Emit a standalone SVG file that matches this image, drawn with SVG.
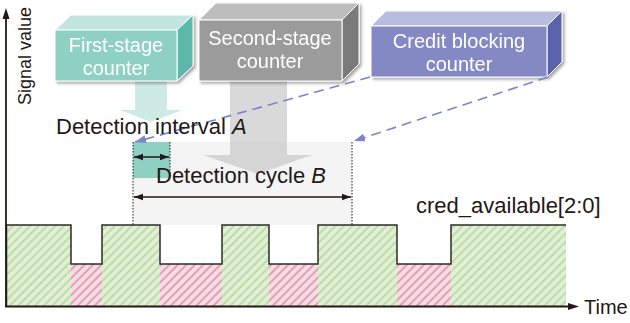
<svg xmlns="http://www.w3.org/2000/svg" width="630" height="323" viewBox="0 0 630 323">
  <style>
    .lbl { font-family: "Liberation Sans", Arial, sans-serif; font-size: 22px; fill: #231815; }
    .box { font-family: "Liberation Sans", Arial, sans-serif; font-size: 20px; fill: #ffffff; text-anchor: middle; }
    .edge { stroke: #ffffff; stroke-width: 1; stroke-linejoin: round; }
    .dot { stroke: #231815; stroke-width: 1; stroke-dasharray: 1.5 1.5; fill: none; }
    .dim { stroke: #231815; stroke-width: 1.5; fill: none; }
    .dash { stroke: #7d84c9; stroke-width: 1.6; stroke-dasharray: 10 6; fill: none; }
  </style>
  <defs>
    <pattern id="hatchGreen" patternUnits="userSpaceOnUse" width="6" height="6" patternTransform="rotate(45)">
      <rect width="6" height="6" fill="#e0efd6"/>
      <line x1="1" y1="0" x2="1" y2="6" stroke="#b4db9b" stroke-width="1.6"/>
    </pattern>
    <pattern id="hatchPink" patternUnits="userSpaceOnUse" width="6" height="6" patternTransform="rotate(45)">
      <rect width="6" height="6" fill="#f3dee7"/>
      <line x1="1" y1="0" x2="1" y2="6" stroke="#e48ea3" stroke-width="1.6"/>
    </pattern>
    <marker id="headDark" markerWidth="10" markerHeight="8" refX="9" refY="4" orient="auto-start-reverse" markerUnits="userSpaceOnUse">
      <path d="M0,0.8 L9,4 L0,7.2 Z" fill="#231815"/>
    </marker>
    <marker id="headBlue" markerWidth="12" markerHeight="10" refX="11" refY="5" orient="auto" markerUnits="userSpaceOnUse">
      <path d="M0,1 L11,5 L0,9 Z" fill="#7d84c9"/>
    </marker>
    <filter id="shadow" x="-10%" y="-20%" width="130%" height="150%">
      <feDropShadow dx="2" dy="2" stdDeviation="1.5" flood-color="#000000" flood-opacity="0.35"/>
    </filter>
  </defs>

  <!-- detection cycle background -->
  <rect x="133" y="142" width="219" height="83" fill="#f4f4f4"/>
  <rect x="133" y="142" width="37" height="36" fill="#8fd0c5"/>

  <!-- signal waveform -->
  <g id="signal">
    <rect x="7" y="225" width="64" height="81" fill="url(#hatchGreen)"/>
    <rect x="71" y="264" width="31" height="42" fill="url(#hatchPink)"/>
    <rect x="102" y="225" width="58" height="81" fill="url(#hatchGreen)"/>
    <rect x="160" y="264" width="62" height="42" fill="url(#hatchPink)"/>
    <rect x="222" y="225" width="47" height="81" fill="url(#hatchGreen)"/>
    <rect x="269" y="264" width="49" height="42" fill="url(#hatchPink)"/>
    <rect x="318" y="225" width="79" height="81" fill="url(#hatchGreen)"/>
    <rect x="397" y="264" width="54" height="42" fill="url(#hatchPink)"/>
    <rect x="451" y="225" width="115" height="81" fill="url(#hatchGreen)"/>
    <path d="M6.5,306 V225 H71 V264 H102 V225 H160 V264 H222 V225 H269 V264 H318 V225 H397 V264 H451 V225 H566" fill="none" stroke="#2e2a28" stroke-width="1.5"/>
  </g>

  <!-- axes -->
  <g id="axes">
    <line x1="6" y1="307" x2="6" y2="18" stroke="#231815" stroke-width="1.8"/>
    <path d="M6,8 L9.5,19 L2.5,19 Z" fill="#231815"/>
    <line x1="5" y1="306.5" x2="569" y2="306.5" stroke="#231815" stroke-width="1.8"/>
    <path d="M579,306.5 L568,303 L568,310 Z" fill="#231815"/>
    <text class="lbl" style="font-size:20px" x="584" y="314">Time</text>
    <text class="lbl" style="font-size:18px" transform="translate(31,105) rotate(-90)">Signal value</text>
  </g>

  <!-- broad flow arrows from the counters -->
  <g id="flow-arrows">
    <path d="M135,81 H167 V110 H182 L151,122 L120,110 H135 Z" fill="#c6e6df" opacity="0.85"/>
    <path d="M230,81 H287 V155 H312 L258,174 L203,155 H230 Z" fill="#c4c4c4" opacity="0.65"/>
  </g>

  <!-- counters -->
  <g id="first-stage" filter="url(#shadow)">
    <path class="edge" d="M55,30 L71,15 H193 L177,30 Z" fill="#c3e5df"/>
    <path class="edge" d="M177,30 L193,15 V66 L177,81 Z" fill="#5cb8aa"/>
    <rect class="edge" x="55" y="30" width="122" height="51" fill="#8fd0c5"/>
    <text class="box" x="116" y="52">First-stage</text>
    <text class="box" x="116" y="75">counter</text>
  </g>
  <g id="second-stage" filter="url(#shadow)">
    <path class="edge" d="M199,20 L216,3 H359 L342,20 Z" fill="#bdbdbd"/>
    <path class="edge" d="M342,20 L359,3 V64 L342,81 Z" fill="#7a7a7a"/>
    <rect class="edge" x="199" y="20" width="143" height="61" fill="#9b9b9b"/>
    <text class="box" x="270" y="45">Second-stage</text>
    <text class="box" x="270" y="68">counter</text>
  </g>
  <g id="credit-blocking" filter="url(#shadow)">
    <path class="edge" d="M371,26 L386,11 H562 L547,26 Z" fill="#b9bce0"/>
    <path class="edge" d="M547,26 L562,11 V62 L547,77 Z" fill="#5a62ab"/>
    <rect class="edge" x="371" y="26" width="176" height="51" fill="#8489c4"/>
    <text class="box" x="459" y="48">Credit blocking</text>
    <text class="box" x="459" y="71">counter</text>
  </g>

  <!-- connectors and dimension marks -->
  <g id="connectors">
    <line class="dash" x1="370" y1="77" x2="135" y2="142" marker-end="url(#headBlue)"/>
    <line class="dash" x1="548" y1="77" x2="354" y2="141" marker-end="url(#headBlue)"/>
    <line class="dot" x1="133" y1="142" x2="133" y2="225"/>
    <line class="dot" x1="170" y1="142" x2="170" y2="178"/>
    <line class="dot" x1="352" y1="142" x2="352" y2="225"/>
    <line class="dim" x1="134" y1="157" x2="169" y2="157" marker-start="url(#headDark)" marker-end="url(#headDark)"/>
    <line class="dim" x1="134" y1="197" x2="351" y2="197" marker-start="url(#headDark)" marker-end="url(#headDark)"/>
  </g>

  <!-- labels -->
  <g id="labels">
    <text class="lbl" x="56" y="134">Detection interval <tspan font-style="italic">A</tspan></text>
    <text class="lbl" x="156" y="183">Detection cycle <tspan font-style="italic">B</tspan></text>
    <text class="lbl" x="416" y="213">cred_available[2:0]</text>
  </g>
</svg>
